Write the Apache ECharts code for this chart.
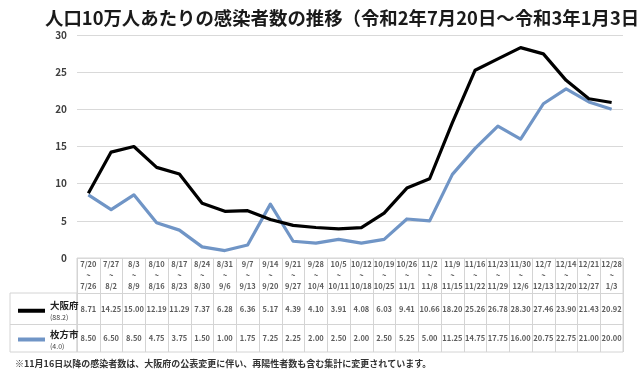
<!DOCTYPE html>
<html><head><meta charset="utf-8">
<script src="https://cdn.jsdelivr.net/npm/echarts@6/dist/echarts.min.js"></script>
<style>html,body{margin:0;padding:0;background:#fff}#c{width:640px;height:381px}</style>
</head><body><div id="c"></div>
<script>
const startDates = ['7/20','7/27','8/3','8/10','8/17','8/24','8/31','9/7','9/14','9/21','9/28','10/5','10/12','10/19','10/26','11/2','11/9','11/16','11/23','11/30','12/7','12/14','12/21','12/28'];
const endDates = ['7/26','8/2','8/9','8/16','8/23','8/30','9/6','9/13','9/20','9/27','10/4','10/11','10/18','10/25','11/1','11/8','11/15','11/22','11/29','12/6','12/13','12/20','12/27','1/3'];
const osaka = [8.71,14.25,15.00,12.19,11.29,7.37,6.28,6.36,5.17,4.39,4.10,3.91,4.08,6.03,9.41,10.66,18.20,25.26,26.78,28.30,27.46,23.90,21.43,20.92];
const hirakata = [8.50,6.50,8.50,4.75,3.75,1.50,1.00,1.75,7.25,2.25,2.00,2.50,2.00,2.50,5.25,5.00,11.25,14.75,17.75,16.00,20.75,22.75,21.00,20.00];
const seriesNames = ['大阪府','枚方市'];
const populations = ['88.2','4.0'];
const yTicks = {min:0, max:30, interval:5};
const titleText = '人口10万人あたりの感染者数の推移（令和2年7月20日～令和3年1月3日）';
const noteText = '※11月16日以降の感染者数は、大阪府の公表変更に伴い、再陽性者数も含む集計に変更されています。';

const FONT = '"Noto Sans CJK JP","Noto Sans",sans-serif';
const BLACK = '#000000', BLUE = '#7095c6', BORDER = '#d4d4d4';
const cats = startDates.map((s,i)=>s+'~'+endDates[i]);

// table layout (pixel rows inside the table grid): header 0-35, row1 35-66, row2 66-94
const ROW_BOUNDS = [35, 66];
const ROW_CENTERS = [17.5, 51, 80.5];

const cellData = [];
cats.forEach((c,i)=>{
  cellData.push([i, ROW_CENTERS[0], startDates[i]+'\n~\n'+endDates[i]]);
  cellData.push([i, ROW_CENTERS[1], osaka[i].toFixed(2)]);
  cellData.push([i, ROW_CENTERS[2], hirakata[i].toFixed(2)]);
});

const chart = echarts.init(document.getElementById('c'), null, {renderer:'canvas'});
chart.setOption({
  backgroundColor:'#fff',
  animation:false,
  textStyle:{fontFamily:FONT},
  title:[
    {text:titleText, left:40, top:4, textStyle:{fontSize:18.4, fontWeight:'bold', color:'#1a1a1a', fontFamily:FONT}},
    {text:noteText, left:10, top:354, textStyle:{fontSize:9, fontWeight:'bold', color:'#333', fontFamily:FONT}}
  ],
  legend:{
    data:seriesNames, orient:'vertical', left:13, top:296, itemGap:9,
    icon:'rect', itemWidth:27, itemHeight:4, selectedMode:false,
    formatter:(n)=>'{a|'+n+'}\n{b|('+populations[seriesNames.indexOf(n)]+')}',
    textStyle:{rich:{a:{fontSize:9.5, fontWeight:'bold', color:'#222', fontFamily:FONT, lineHeight:13},
                     b:{fontSize:7, color:'#444', fontFamily:FONT, lineHeight:10}}}
  },
  grid:[
    {left:77, right:17, top:35, height:223},
    {left:77, right:17, top:258, height:94, show:true, borderColor:BORDER, borderWidth:1},
    {left:10, width:67, top:293, height:59, show:true, borderColor:BORDER, borderWidth:1}
  ],
  xAxis:[
    {gridIndex:0, type:'category', data:cats, boundaryGap:true, axisLine:{show:false}, axisTick:{show:false}, axisLabel:{show:false}},
    {gridIndex:1, type:'category', data:cats, boundaryGap:true, axisLine:{show:false}, axisTick:{show:false}, axisLabel:{show:false},
      splitLine:{show:true, interval:0, lineStyle:{color:BORDER, width:1}}},
    {gridIndex:2, type:'value', show:false, min:0, max:1}
  ],
  yAxis:[
    {gridIndex:0, type:'value', min:yTicks.min, max:yTicks.max, interval:yTicks.interval,
      axisLine:{show:false}, axisTick:{show:false},
      axisLabel:{fontSize:10, fontWeight:'bold', color:'#404040', margin:10, fontFamily:FONT},
      splitLine:{lineStyle:{color:'#d9d9d9', width:1}}},
    {gridIndex:1, type:'value', min:0, max:94, inverse:true, show:false},
    {gridIndex:2, type:'value', min:0, max:59, inverse:true, show:false}
  ],
  series:[
    {name:seriesNames[0], type:'line', xAxisIndex:0, yAxisIndex:0, data:osaka, showSymbol:false, symbol:'none',
      lineStyle:{color:BLACK, width:3.2, join:'round'}, itemStyle:{color:BLACK}, z:3},
    {name:seriesNames[1], type:'line', xAxisIndex:0, yAxisIndex:0, data:hirakata, showSymbol:false, symbol:'none',
      lineStyle:{color:BLUE, width:3.2, join:'round'}, itemStyle:{color:BLUE}, z:2},
    {name:'table', type:'scatter', xAxisIndex:1, yAxisIndex:1, data:cellData, symbolSize:0, silent:true,
      label:{show:true, position:'inside', formatter:(p)=>p.value[2], fontSize:7.5, fontWeight:'bold', color:'#333', lineHeight:11, fontFamily:FONT},
      markLine:{silent:true, symbol:'none', label:{show:false}, lineStyle:{color:BORDER, width:1, type:'solid'},
        data:ROW_BOUNDS.map(v=>({yAxis:v}))}},
    {name:'labelcol', type:'scatter', xAxisIndex:2, yAxisIndex:2, data:[], symbolSize:0, silent:true,
      markLine:{silent:true, symbol:'none', label:{show:false}, lineStyle:{color:BORDER, width:1, type:'solid'},
        data:[{yAxis:31}]}}
  ]
});
</script></body></html>
